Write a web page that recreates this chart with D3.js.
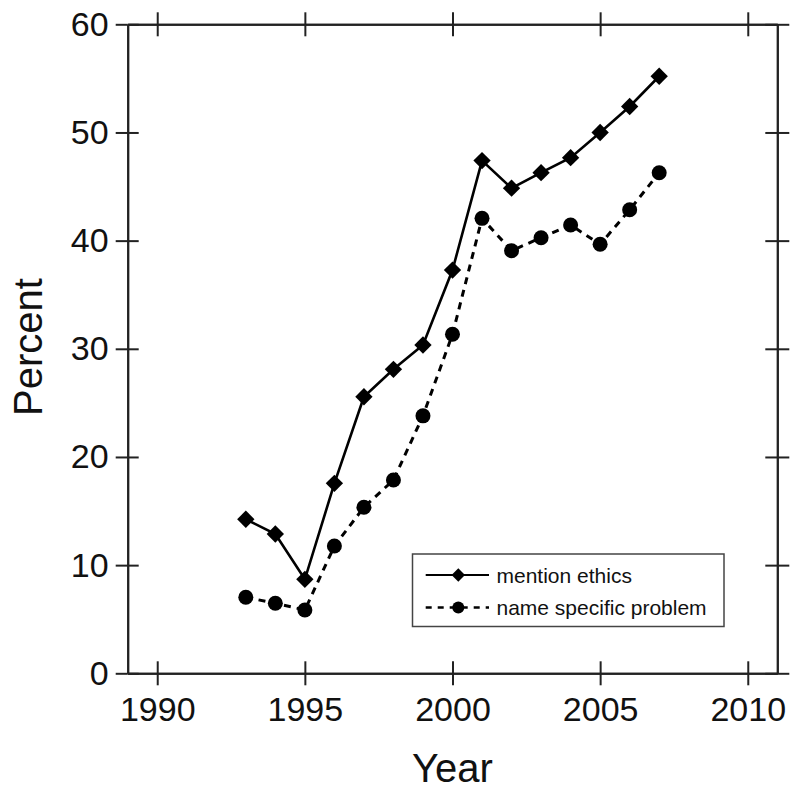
<!DOCTYPE html>
<html>
<head>
<meta charset="utf-8">
<script src="https://cdn.jsdelivr.net/npm/d3@7"></script>
<style>
  body { margin: 0; background: #fff; }
  svg { font-family: "Liberation Sans", Arial, Helvetica, sans-serif; }
</style>
</head>
<body>
<div id="chart"></div>
<script>
// values
const years = [1993, 1994, 1995, 1996, 1997, 1998, 1999, 2000, 2001, 2002, 2003, 2004, 2005, 2006, 2007];
const mentionEthics = [14.24, 12.88, 8.69, 17.56, 25.57, 28.1, 30.35, 37.28, 47.4, 44.85, 46.28, 47.67, 50.0, 52.4, 55.2];
const specificProblem = [7.03, 6.47, 5.85, 11.77, 15.35, 17.87, 23.8, 31.34, 42.06, 39.07, 40.27, 41.44, 39.66, 42.85, 46.28];
const xTicks = [1990, 1995, 2000, 2005, 2010];
const yTicks = [0, 10, 20, 30, 40, 50, 60];
const legendLabels = ["mention ethics", "name specific problem"];

const W = 800, H = 793;
const margin = {top: 24.3, right: 22.7, bottom: 119.7, left: 127.7};
const width = W - margin.left - margin.right;
const height = H - margin.top - margin.bottom;

const svg = d3.select("#chart").append("svg")
    .attr("width", W)
    .attr("height", H);
const plot = svg.append("g")
    .attr("transform", "translate(" + margin.left + "," + margin.top + ")");

const x = d3.scaleLinear().domain([1989, 2011]).range([0, width]);
const y = d3.scaleLinear().domain([0, 60]).range([height, 0]);

// style one axis group: dark lines, big labels
function styleAxis(g) {
    g.select(".domain").attr("stroke", "#222").attr("stroke-width", 2);
    g.selectAll(".tick line").attr("stroke", "#222").attr("stroke-width", 2);
    g.selectAll(".tick text").attr("font-size", 34).attr("fill", "#111");
}

// outer ticks with labels + inner ticks without labels (ticks cross the frame)
const bottom = plot.append("g").attr("transform", "translate(0," + height + ")")
    .call(d3.axisBottom(x).tickValues(xTicks).tickFormat(d3.format("d"))
        .tickSizeInner(12).tickSizeOuter(0).tickPadding(12));
styleAxis(bottom);
styleAxis(plot.append("g").attr("transform", "translate(0," + height + ")")
    .call(d3.axisBottom(x).tickValues(xTicks).tickFormat("").tickSizeInner(-12).tickSizeOuter(0)));

styleAxis(plot.append("g")
    .call(d3.axisTop(x).tickValues(xTicks).tickFormat("").tickSizeInner(12).tickSizeOuter(0)));
styleAxis(plot.append("g")
    .call(d3.axisTop(x).tickValues(xTicks).tickFormat("").tickSizeInner(-12).tickSizeOuter(0)));

const left = plot.append("g")
    .call(d3.axisLeft(y).tickValues(yTicks).tickSizeInner(12).tickSizeOuter(0).tickPadding(7));
styleAxis(left);
styleAxis(plot.append("g")
    .call(d3.axisLeft(y).tickValues(yTicks).tickFormat("").tickSizeInner(-11).tickSizeOuter(0)));

styleAxis(plot.append("g").attr("transform", "translate(" + width + ",0)")
    .call(d3.axisRight(y).tickValues(yTicks).tickFormat("").tickSizeInner(12).tickSizeOuter(0)));
styleAxis(plot.append("g").attr("transform", "translate(" + width + ",0)")
    .call(d3.axisRight(y).tickValues(yTicks).tickFormat("").tickSizeInner(-12).tickSizeOuter(0)));

// labels
svg.append("text")
    .attr("x", margin.left + width / 2)
    .attr("y", 781.5)
    .attr("text-anchor", "middle")
    .attr("font-size", 40)
    .attr("fill", "#111")
    .text("Year");

svg.append("text")
    .attr("transform", "rotate(-90)")
    .attr("x", -347)
    .attr("y", 41.5)
    .attr("text-anchor", "middle")
    .attr("font-size", 40)
    .attr("fill", "#111")
    .text("Percent");

// series
const ethicsData = years.map((yr, i) => ({year: yr, value: mentionEthics[i]}));
const problemData = years.map((yr, i) => ({year: yr, value: specificProblem[i]}));

const line = d3.line().x(d => x(d.year)).y(d => y(d.value));

plot.append("path")
    .datum(problemData)
    .attr("fill", "none")
    .attr("stroke", "#000")
    .attr("stroke-width", 3)
    .attr("stroke-dasharray", "7,6")
    .attr("d", line);

plot.append("path")
    .datum(ethicsData)
    .attr("fill", "none")
    .attr("stroke", "#000")
    .attr("stroke-width", 2.6)
    .attr("d", line);

const diamond = d3.symbol().type(d3.symbolSquare).size(150);
plot.selectAll(".diamond")
    .data(ethicsData)
    .join("path")
    .attr("class", "diamond")
    .attr("d", diamond)
    .attr("transform", d => "translate(" + x(d.year) + "," + y(d.value) + ") rotate(45)")
    .attr("fill", "#000");

plot.selectAll(".dot")
    .data(problemData)
    .join("circle")
    .attr("class", "dot")
    .attr("cx", d => x(d.year))
    .attr("cy", d => y(d.value))
    .attr("r", 7.5)
    .attr("fill", "#000");

// legend
const legend = svg.append("g");
legend.append("rect")
    .attr("x", 412.5).attr("y", 554)
    .attr("width", 311.5).attr("height", 72.5)
    .attr("fill", "#fff")
    .attr("stroke", "#444")
    .attr("stroke-width", 1.5);

const rows = [575, 607.5];
legendLabels.forEach((lab, i) => {
    const g = legend.append("g").attr("transform", "translate(0," + rows[i] + ")");
    g.append("line")
        .attr("x1", 425.7).attr("x2", 489)
        .attr("stroke", "#000")
        .attr("stroke-width", i === 0 ? 2 : 2.5)
        .attr("stroke-dasharray", i === 0 ? null : "6,6");
    if (i === 0) {
        g.append("path")
            .attr("d", d3.symbol().type(d3.symbolSquare).size(90))
            .attr("transform", "translate(458.3,0) rotate(45)")
            .attr("fill", "#000");
    } else {
        g.append("circle").attr("cx", 458.3).attr("cy", 0).attr("r", 6).attr("fill", "#000");
    }
    g.append("text")
        .attr("x", 496.5)
        .attr("y", 7.5)
        .attr("font-size", 21)
        .attr("fill", "#111")
        .text(lab);
});
</script>
</body>
</html>
